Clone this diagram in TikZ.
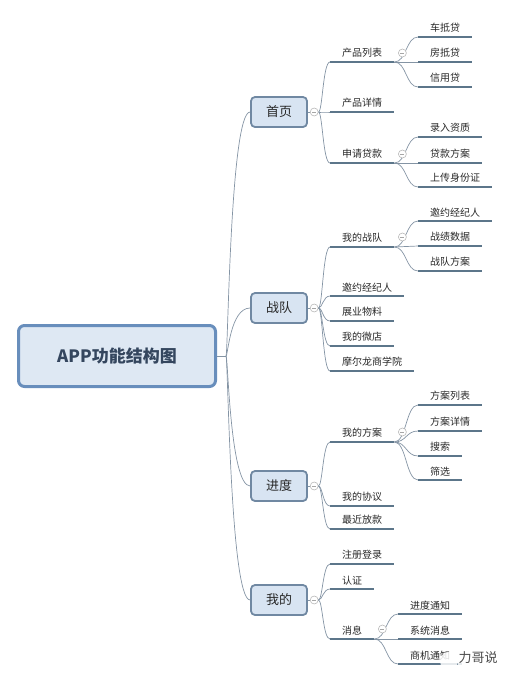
\documentclass[tikz,border=0pt]{standalone}
\usepackage{fontspec}
\setmainfont{Noto Sans CJK SC}
\usetikzlibrary{positioning}
\definecolor{rootdraw}{RGB}{104,142,188}
\definecolor{rootfill}{RGB}{222,232,243}
\definecolor{boxdraw}{RGB}{112,136,162}
\definecolor{boxfill}{RGB}{216,228,242}
\definecolor{uline}{RGB}{92,118,138}
\definecolor{branch}{RGB}{132,148,164}
\definecolor{ink}{RGB}{40,40,40}
\definecolor{rootink}{RGB}{52,70,94}

\begin{document}
\begin{tikzpicture}[
    x=1pt, y=-1pt,
    root/.style={rectangle, rounded corners=6pt, draw=rootdraw, line width=3pt, fill=rootfill, minimum width=197pt, minimum height=61pt, font=\fontsize{17}{20}\selectfont\bfseries, text=rootink},
    main/.style={rectangle, rounded corners=4pt, draw=boxdraw, line width=1.8pt, fill=boxfill, minimum width=56pt, minimum height=30pt, font=\fontsize{13}{15}\selectfont, text=ink},
    topic/.style={anchor=south west, inner xsep=12pt, inner ysep=4pt, font=\fontsize{10}{12}\selectfont, text=ink,
        append after command={(\tikzlastnode.south west) edge[under] (\tikzlastnode.south east)}},
    under/.style={draw=uline, line width=2.4pt},
    link/.style={draw=branch, line width=0.7pt},
    trunk/.style={link, to path={.. controls +(2,0) and +(-20,0) .. (\tikztotarget)}},
    fork/.style={link, to path={.. controls +(4,0) and +(-7,0) .. (\tikztotarget)}},
    twig/.style={link, to path={.. controls +(12,0) and +(-12,0) .. (\tikztotarget)}},
    fold/.style={circle, draw=gray!55, fill=white, line width=0.6pt, minimum size=8pt, inner sep=0pt,
        path picture={\draw[gray!70, line width=0.6pt] ([xshift=2pt]path picture bounding box.west) -- ([xshift=-2pt]path picture bounding box.east);}},
    wmark/.style={font=\fontsize{13}{15}\selectfont, text=black!70, fill=white, fill opacity=0.85, text opacity=1, inner sep=1pt}
]
    \useasboundingbox (0,0) rectangle (511,681);

    % root and the four main branches
    \node[root] (app) at (117,356) {APP功能结构图};
    \coordinate[right=9pt of app.east] (hub);
    \node[main] (home) at (279,112) {首页};
    \node[main] (team) at (279,308) {战队};
    \node[main] (prog) at (279,486) {进度};
    \node[main] (mine) at (279,600) {我的};

    \draw[link] (app) -- (hub);
    \draw (hub) edge[trunk] (home.west) edge[trunk] (team.west) edge[trunk] (prog.west) edge[trunk] (mine.west);

    \node[fold, right=2pt of home] (fhome) {};
    \node[fold, right=2pt of team] (fteam) {};
    \node[fold, right=2pt of prog] (fprog) {};
    \node[fold, right=2pt of mine] (fmine) {};
    \draw[link] (home) -- (fhome);
    \draw[link] (team) -- (fteam);
    \draw[link] (prog) -- (fprog);
    \draw[link] (mine) -- (fmine);

    % 首页
    \node[topic] (plist) at (330,62) {产品列表};
    \node[topic] (pdetail) at (330,112) {产品详情};
    \node[topic] (apply) at (330,163) {申请贷款};
    \draw (fhome.east) edge[fork] (plist.south west) edge[fork] (pdetail.south west) edge[fork] (apply.south west);

    \node[topic] (car) at (418,37) {车抵贷};
    \node[topic] (house) at (418,62) {房抵贷};
    \node[topic] (credit) at (418,87) {信用贷};
    \draw (plist.south east) edge[twig] (car.south west) edge[twig] (house.south west) edge[twig] (credit.south west);
    \node[fold] (fplist) at ([shift={(8,-9)}]plist.south east) {};

    \node[topic] (quali) at (418,137) {录入资质};
    \node[topic] (scheme) at (418,163) {贷款方案};
    \node[topic] (idcard) at (418,187) {上传身份证};
    \draw (apply.south east) edge[twig] (quali.south west) edge[twig] (scheme.south west) edge[twig] (idcard.south west);
    \node[fold] (fapply) at ([shift={(8,-9)}]apply.south east) {};

    % 战队
    \node[topic] (myteam) at (330,247) {我的战队};
    \node[topic] (invite) at (330,296) {邀约经纪人};
    \node[topic] (material) at (330,321) {展业物料};
    \node[topic] (shop) at (330,346) {我的微店};
    \node[topic] (school) at (330,371) {摩尔龙商学院};
    \draw (fteam.east) edge[fork] (myteam.south west) edge[fork] (invite.south west) edge[fork] (material.south west)
        edge[fork] (shop.south west) edge[fork] (school.south west);

    \node[topic] (tinvite) at (418,221) {邀约经纪人};
    \node[topic] (tdata) at (418,246) {战绩数据};
    \node[topic] (tplan) at (418,271) {战队方案};
    \draw (myteam.south east) edge[twig] (tinvite.south west) edge[twig] (tdata.south west) edge[twig] (tplan.south west);
    \node[fold] (fmyteam) at ([shift={(8,-10)}]myteam.south east) {};

    % 进度
    \node[topic] (myplan) at (330,442) {我的方案};
    \node[topic] (deal) at (330,506) {我的协议};
    \node[topic] (loan) at (330,529) {最近放款};
    \draw (fprog.east) edge[fork] (myplan.south west) edge[fork] (deal.south west) edge[fork] (loan.south west);

    \node[topic] (planlist) at (418,405) {方案列表};
    \node[topic] (plandetail) at (418,431) {方案详情};
    \node[topic] (search) at (418,456) {搜索};
    \node[topic] (filter) at (418,480) {筛选};
    \draw (myplan.south east) edge[twig] (planlist.south west) edge[twig] (plandetail.south west)
        edge[twig] (search.south west) edge[twig] (filter.south west);
    \node[fold] (fmyplan) at ([shift={(8,-10)}]myplan.south east) {};

    % 我的
    \node[topic] (signup) at (330,564) {注册登录};
    \node[topic] (verify) at (330,589) {认证};
    \node[topic] (msg) at (330,639) {消息};
    \draw (fmine.east) edge[fork] (signup.south west) edge[fork] (verify.south west) edge[fork] (msg.south west);

    \node[topic] (notice) at (398,614) {进度通知};
    \node[topic] (sysmsg) at (398,639) {系统消息};
    \node[topic] (biz) at (398,664) {商机通知};
    \draw (msg.south east) edge[twig] (notice.south west) edge[twig] (sysmsg.south west) edge[twig] (biz.south west);
    \node[fold] (fmsg) at ([shift={(8,-10)}]msg.south east) {};

    % watermark
    \fill[white, opacity=0.85] (449,661) circle (9pt);
    \node[wmark] (wm) at (478,658) {力哥说};
\end{tikzpicture}
\end{document}
